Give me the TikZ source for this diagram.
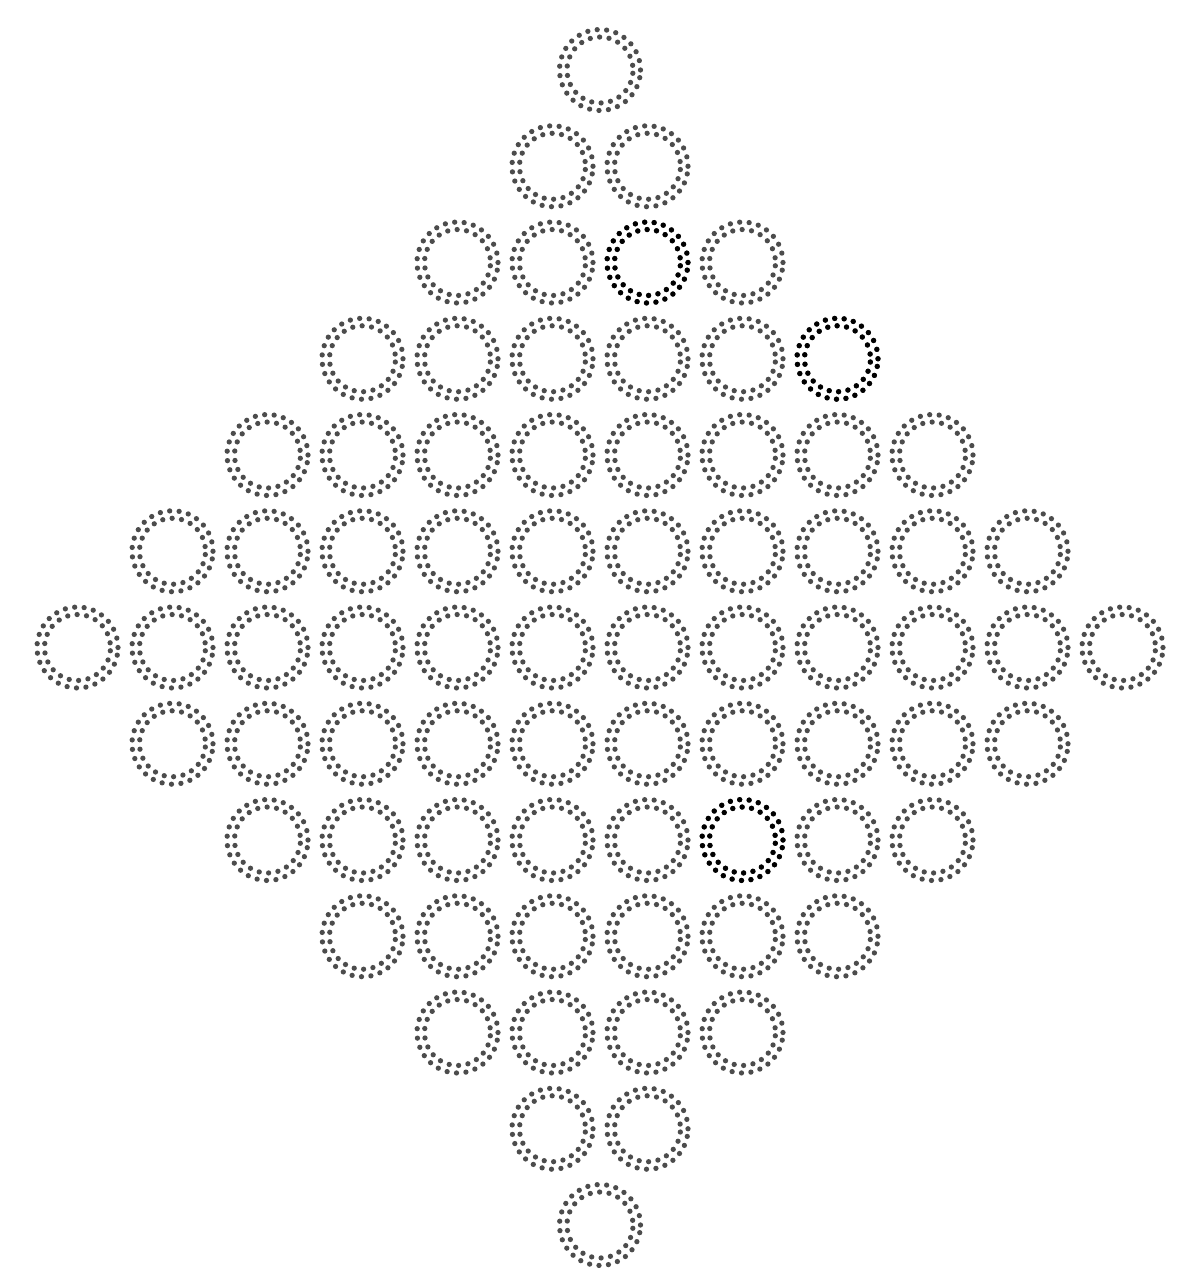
\documentclass[tikz,border=0pt]{standalone}
\usetikzlibrary{calc}
\begin{document}
\begin{tikzpicture}[
    x=0.02cm, y=-0.02cm,
    dotline/.style={line width=3pt, line cap=round, dash pattern=on 0pt off 5.4pt, draw=black!70},
    ring/.style={circle, inner sep=0pt, minimum size=1.62cm, dotline,
        path picture={\draw[dotline, dash phase=2.7pt] (path picture bounding box.center) circle[radius=0.66cm];}}
]
    \fill[white] (0,0) rectangle (1198,1279);
    \useasboundingbox (0,0) rectangle (1198,1279);

    % Diamond of dotted rings, row by row
    \foreach \r in {0,...,12}{
        \pgfmathtruncatemacro\n{max(1,2*(6-abs(\r-6)))}
        \foreach \i in {1,...,\n}{
            \node[ring] (c-\r-\i) at ({600+95*(\i-(\n+1)/2)}, {70+96.25*\r}) {};
        }
    }

    % Darker rings
    \foreach \r/\i in {2/3, 3/6, 8/6}{
        \draw[dotline, draw=black] (c-\r-\i) circle[radius=0.81cm];
        \draw[dotline, draw=black, dash phase=2.7pt] (c-\r-\i) circle[radius=0.66cm];
    }
\end{tikzpicture}
\end{document}
